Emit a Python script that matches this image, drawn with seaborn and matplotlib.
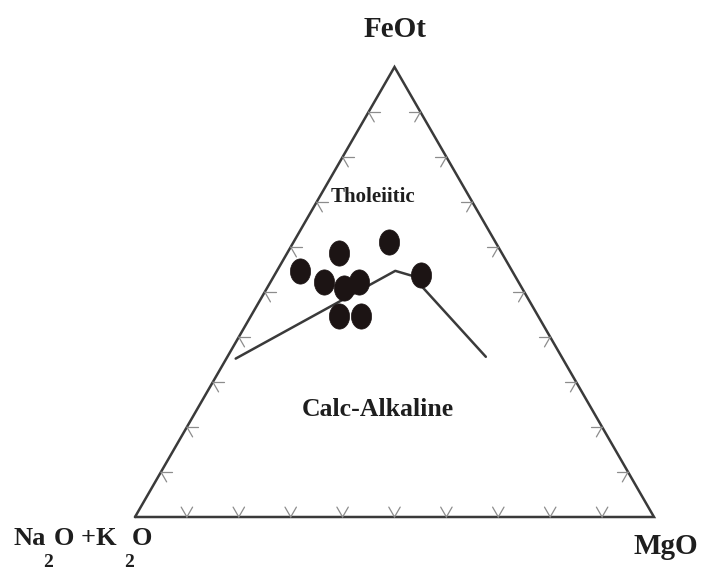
import numpy as np
import pandas as pd
import matplotlib
matplotlib.use("Agg")
import matplotlib.pyplot as plt
import seaborn as sns
from matplotlib.path import Path

# AFM ternary data (wt%): FeOt, Na2O+K2O, MgO
sample_feot = [54.7, 58.7, 61.2, 52.3, 51.0, 52.3, 44.7, 44.7, 53.8]
sample_alk = [40.9, 31.3, 20.5, 37.4, 34.2, 30.7, 38.3, 34.1, 18.0]
sample_mgo = [4.4, 10.0, 18.3, 10.3, 14.8, 17.0, 17.0, 21.2, 28.2]

# Tholeiitic / calc-alkaline boundary
bound_feot = [35.2, 54.7, 53.6, 35.6]
bound_alk = [63.0, 22.5, 19.8, 14.6]
bound_mgo = [1.8, 22.8, 26.6, 49.8]

H = np.sqrt(3) / 2


def to_xy(feot, alk, mgo):
    f = np.asarray(feot, float)
    a = np.asarray(alk, float)
    m = np.asarray(mgo, float)
    tot = f + a + m
    f, m = f / tot, m / tot
    return m + f / 2, f * H


sns.set_style("white")
plt.rcParams['font.family'] = ['Liberation Serif', 'DejaVu Serif']

fig = plt.figure(figsize=(7.01, 5.70), dpi=100)
ax = fig.add_axes([135 / 701, 53 / 570, 519 / 701, 450 / 570])
ax.set_xlim(0, 1)
ax.set_ylim(0, H)
ax.axis('off')

# triangle frame
ax.plot([0, 1, 0.5, 0], [0, 0, H, 0], color='#3a3a3a', lw=1.8,
        clip_on=False, solid_joinstyle='miter')

# small gridline stubs every 10 %
L = 0.022
tick_kw = dict(color='#8c8c8c', lw=0.9, clip_on=False)
for i in range(1, 10):
    t = i / 10
    # base
    x0, y0 = t, 0
    ax.plot([x0, x0 - 0.5 * L], [y0, y0 + H * L], **tick_kw)
    ax.plot([x0, x0 + 0.5 * L], [y0, y0 + H * L], **tick_kw)
    # left edge
    x0, y0 = t / 2, t * H
    ax.plot([x0, x0 + L], [y0, y0], **tick_kw)
    ax.plot([x0, x0 + 0.5 * L], [y0, y0 - H * L], **tick_kw)
    # right edge
    x0, y0 = 1 - t / 2, t * H
    ax.plot([x0, x0 - L], [y0, y0], **tick_kw)
    ax.plot([x0, x0 - 0.5 * L], [y0, y0 - H * L], **tick_kw)

# boundary line
bx, by = to_xy(bound_feot, bound_alk, bound_mgo)
bdf = pd.DataFrame({'x': bx, 'y': by})
sns.lineplot(data=bdf, x='x', y='y', sort=False, color='#3a3a3a', lw=1.8,
             ax=ax, legend=False)

# samples as ellipses
theta = np.linspace(0, 2 * np.pi, 64)
ellipse = Path(np.column_stack([0.8 * np.cos(theta), np.sin(theta)]))
sx, sy = to_xy(sample_feot, sample_alk, sample_mgo)
sdf = pd.DataFrame({'x': sx, 'y': sy})
sns.scatterplot(data=sdf, x='x', y='y', marker=ellipse, s=330,
                color='#1c1414', edgecolor='#1c1414', linewidth=0.5,
                ax=ax, legend=False, zorder=5)
ax.set_xlim(0, 1)
ax.set_ylim(0, H)

# field labels
txt = dict(fontweight='bold', color='#1e1e1e')
fig.text(373 / 701, 1 - 197 / 570, 'Tholeiitic', ha='center', va='center',
         fontsize=15, **txt)
fig.text(378 / 701, 1 - 409 / 570, 'Calc-Alkaline', ha='center', va='center',
         fontsize=18.5, **txt)

# apex labels
fig.text(395 / 701, 1 - 37 / 570, 'FeOt', ha='center', va='baseline',
         fontsize=21, **txt)
fig.text(698 / 701, 1 - 554 / 570, 'MgO', ha='right', va='baseline',
         fontsize=21, **txt)
fig.text(13 / 701, 1 - 545 / 570, 'Na', ha='left', va='baseline', fontsize=19, **txt)
fig.text(43 / 701, 1 - 567 / 570, '2', ha='left', va='baseline', fontsize=14, **txt)
fig.text(54 / 701, 1 - 545 / 570, 'O +K', ha='left', va='baseline', fontsize=19, **txt)
fig.text(124 / 701, 1 - 567 / 570, '2', ha='left', va='baseline', fontsize=14, **txt)
fig.text(132 / 701, 1 - 545 / 570, 'O', ha='left', va='baseline', fontsize=19, **txt)

fig.savefig('out.png', dpi=100, facecolor='white')
